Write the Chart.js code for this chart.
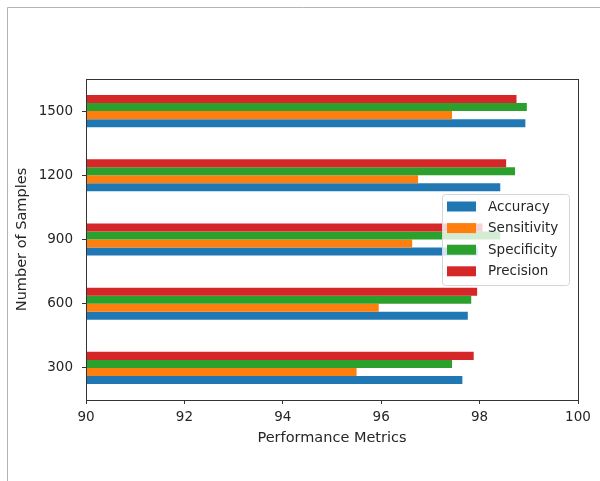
<!DOCTYPE html>
<html>
<head>
<meta charset="utf-8">
<title>Performance Metrics by Number of Samples</title>
<script src="https://cdn.jsdelivr.net/npm/chart.js@4.4.1/dist/chart.umd.min.js"></script>
<style>
  html, body { margin: 0; padding: 0; background: #ffffff; }
  #wrap { width: 600px; height: 481px; }
</style>
</head>
<body>
<div id="wrap"><canvas id="chart" width="600" height="481"></canvas></div>
<script>
// Sample sizes, listed top to bottom
const samples = ['1500', '1200', '900', '600', '300'];

// Metric values (%) for each sample size
const accuracy    = [98.93, 98.42, 97.96, 97.76, 97.65];
const sensitivity = [97.44, 96.75, 96.63, 95.95, 95.50];
const specificity = [98.96, 98.72, 98.42, 97.83, 97.44];
const precision   = [98.75, 98.54, 98.06, 97.95, 97.88];

const xTicks = [90, 92, 94, 96, 98, 100];

const seriesNames  = ['Accuracy', 'Sensitivity', 'Specificity', 'Precision'];
const seriesValues = [accuracy, sensitivity, specificity, precision];
const seriesColors = ['#1f77b4', '#ff7f0e', '#2ca02c', '#d62728'];

const FONT = 'DejaVu Sans';
const TEXT = '#262626';
const TICK_SIZE = 13.5;
const TITLE_SIZE = 14.5;

// Within each group the first series sits at the bottom, so datasets go in reverse
const datasets = seriesNames.map((name, i) => ({
  label: name,
  data: seriesValues[i],
  backgroundColor: seriesColors[i],
  borderWidth: 0,
  categoryPercentage: 0.5,
  barPercentage: 1.0
})).reverse();

// Page frame, axes box and legend box
const decorations = {
  id: 'decorations',
  beforeDraw(chart) {
    const ctx = chart.ctx;
    ctx.save();
    ctx.strokeStyle = '#b4b4b4';
    ctx.lineWidth = 1;
    ctx.beginPath();
    ctx.moveTo(7.5, 481);
    ctx.lineTo(7.5, 7.5);
    ctx.lineTo(600, 7.5);
    ctx.stroke();
    ctx.restore();
  },
  afterDatasetsDraw(chart) {
    const ctx = chart.ctx;
    const a = chart.chartArea;
    ctx.save();
    ctx.strokeStyle = '#333333';
    ctx.lineWidth = 1;
    const l = Math.round(a.left) + 0.5, r = Math.round(a.right) + 0.5;
    const t = Math.round(a.top) + 0.5, b = Math.round(a.bottom) + 0.5;
    ctx.strokeRect(l, t, r - l, b - t);
    ctx.restore();
  },
  afterDraw(chart) {
    const ctx = chart.ctx;
    const box = { x: 442.5, y: 194.5, w: 127, h: 91, r: 3 };
    ctx.save();
    ctx.beginPath();
    ctx.roundRect(box.x, box.y, box.w, box.h, box.r);
    ctx.fillStyle = 'rgba(255,255,255,0.8)';
    ctx.fill();
    ctx.strokeStyle = '#d6d6d6';
    ctx.lineWidth = 1;
    ctx.stroke();
    ctx.font = TICK_SIZE + 'px "' + FONT + '"';
    ctx.textBaseline = 'middle';
    ctx.textAlign = 'left';
    seriesNames.forEach((name, i) => {
      const cy = 206.5 + i * 21.6;
      ctx.fillStyle = seriesColors[i];
      ctx.fillRect(447, cy - 5, 29, 10);
      ctx.fillStyle = TEXT;
      ctx.fillText(name, 488, cy + 0.5);
    });
    ctx.restore();
  }
};

new Chart(document.getElementById('chart'), {
  type: 'bar',
  data: { labels: samples, datasets: datasets },
  options: {
    indexAxis: 'y',
    responsive: false,
    animation: false,
    devicePixelRatio: 1,
    layout: { padding: { left: 0, top: 79, right: 22, bottom: 0 } },
    plugins: {
      legend: { display: false },
      tooltip: { enabled: false }
    },
    scales: {
      x: {
        type: 'linear',
        min: 90,
        max: 100,
        afterBuildTicks(scale) {
          scale.ticks = xTicks.map(v => ({ value: v }));
        },
        afterFit(scale) { scale.height = 81; },
        border: { display: false },
        grid: {
          drawOnChartArea: false,
          drawTicks: true,
          tickLength: 4,
          color: '#333333'
        },
        ticks: {
          padding: 5,
          color: TEXT,
          font: { family: FONT, size: TICK_SIZE },
          maxRotation: 0
        },
        title: {
          display: true,
          text: 'Performance Metrics',
          color: TEXT,
          font: { family: FONT, size: TITLE_SIZE },
          padding: { top: 0, bottom: 34 }
        }
      },
      y: {
        type: 'category',
        afterFit(scale) { scale.width = 86; },
        border: { display: false },
        grid: {
          drawOnChartArea: false,
          drawTicks: true,
          tickLength: 4,
          color: '#333333',
          offset: false
        },
        ticks: {
          padding: 9,
          color: TEXT,
          font: { family: FONT, size: TICK_SIZE }
        },
        title: {
          display: true,
          text: 'Number of Samples',
          color: TEXT,
          font: { family: FONT, size: TITLE_SIZE },
          padding: { top: 14, bottom: 0 }
        }
      }
    }
  },
  plugins: [decorations]
});
</script>
</body>
</html>
